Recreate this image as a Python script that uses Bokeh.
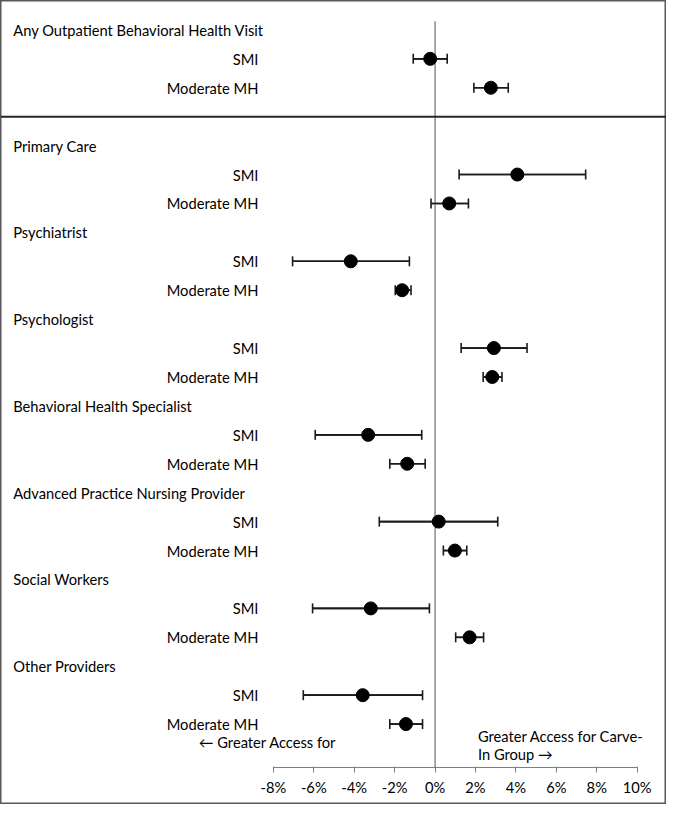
from bokeh.plotting import figure
from bokeh.models import Range1d, LinearAxis, FixedTicker, Whisker, ColumnDataSource, Span, TeeHead
from bokeh.core.properties import value
from bokeh.embed import file_html
from bokeh.resources import INLINE

# ---- data ----
groups = ["Any Outpatient Behavioral Health Visit", "Primary Care", "Psychiatrist",
          "Psychologist", "Behavioral Health Specialist",
          "Advanced Practice Nursing Provider", "Social Workers", "Other Providers"]
subgroups = ["SMI", "Moderate MH"]
smi_est = [-0.24, 4.07, -4.17, 2.91, -3.31, 0.18, -3.18, -3.58]
smi_lo = [-1.08, 1.19, -7.05, 1.29, -5.93, -2.76, -6.06, -6.52]
smi_hi = [0.60, 7.45, -1.27, 4.55, -0.66, 3.10, -0.28, -0.62]
mod_est = [2.76, 0.70, -1.63, 2.83, -1.38, 0.98, 1.71, -1.44]
mod_lo = [1.92, -0.20, -1.97, 2.38, -2.24, 0.41, 1.02, -2.24]
mod_hi = [3.62, 1.65, -1.19, 3.31, -0.49, 1.57, 2.40, -0.62]
tick_vals = [-8, -6, -4, -2, 0, 2, 4, 6, 8, 10]
tick_labels = ["-8%", "-6%", "-4%", "-2%", "0%", "2%", "4%", "6%", "8%", "10%"]
left_note = "\u2190 Greater Access for"
right_note = ["Greater Access for Carve-", "In Group \u2192"]

FONT = "Lato"
FS = "14.7px"

# ---- row layout ----
title_rows = [3 * k + (1 if k > 0 else 0) for k in range(len(groups))]
smi_rows = [r + 1 for r in title_rows]
mod_rows = [r + 2 for r in title_rows]

p = figure(width=666, height=804,
           x_range=Range1d(-21.5, 11.45), y_range=Range1d(26.78, -1.017),
           x_axis_location=None, y_axis_location=None,
           output_backend="svg", toolbar_location=None, min_border=0)
for g in p.grid:
    g.visible = False
p.outline_line_color = "#595959"
p.outline_line_width = 2
p.background_fill_color = "white"
p.border_fill_color = "white"

# zero line
p.segment(x0=[0], y0=[-0.3], x1=[0], y1=[25.49], line_color="#6e6e6e", line_width=1.2)
# separator
p.add_layout(Span(location=3, dimension="width", line_color="#262626", line_width=2))

# error bars
all_rows = smi_rows + mod_rows
all_est = smi_est + mod_est
src = ColumnDataSource(dict(y=all_rows, est=all_est, lo=smi_lo + mod_lo, hi=smi_hi + mod_hi))
p.segment(x0="lo", y0="y", x1="hi", y1="y", source=src, line_color="#1a1a1a", line_width=1.6)
w = Whisker(base="y", lower="lo", upper="hi", dimension="width", source=src,
            line_color="#1a1a1a", line_width=1.6,
            lower_head=TeeHead(size=10, line_color="#1a1a1a", line_width=1.6),
            upper_head=TeeHead(size=10, line_color="#1a1a1a", line_width=1.6))
p.add_layout(w)
p.scatter(x="est", y="y", source=src, size=13, color="black")

# labels
p.text(x=[-20.87] * len(groups), y=title_rows, text=groups,
       text_font=value(FONT), text_font_size=FS, text_baseline="middle",
       text_align="left", text_color="black")
p.text(x=[-8.74] * (2 * len(groups)), y=smi_rows + mod_rows,
       text=[subgroups[0]] * len(groups) + [subgroups[1]] * len(groups),
       text_font=value(FONT), text_font_size=FS, text_baseline="middle",
       text_align="right", text_color="black")
p.text(x=[-11.69], y=[24.63], text=[left_note],
       text_font=value(FONT), text_font_size=FS, text_baseline="middle",
       text_align="left", text_color="black")
p.text(x=[2.12, 2.12], y=[24.41, 25.05], text=right_note,
       text_font=value(FONT), text_font_size=FS, text_baseline="middle",
       text_align="left", text_color="black")

# axis
ax = LinearAxis(fixed_location=25.49, bounds=(-8, 10),
                ticker=FixedTicker(ticks=tick_vals, minor_ticks=[]),
                major_label_overrides={v: l for v, l in zip(tick_vals, tick_labels)})
ax.axis_line_color = "#7f7f7f"
ax.axis_line_width = 1.2
ax.major_tick_line_color = "#7f7f7f"
ax.major_tick_in = 1
ax.major_tick_out = 5
ax.minor_tick_line_color = None
ax.major_label_standoff = 6
ax.major_label_text_font = FONT
ax.major_label_text_font_size = FS
ax.major_label_text_color = "black"
p.add_layout(ax, "below")

open("out.html", "w").write(file_html(p, INLINE))
